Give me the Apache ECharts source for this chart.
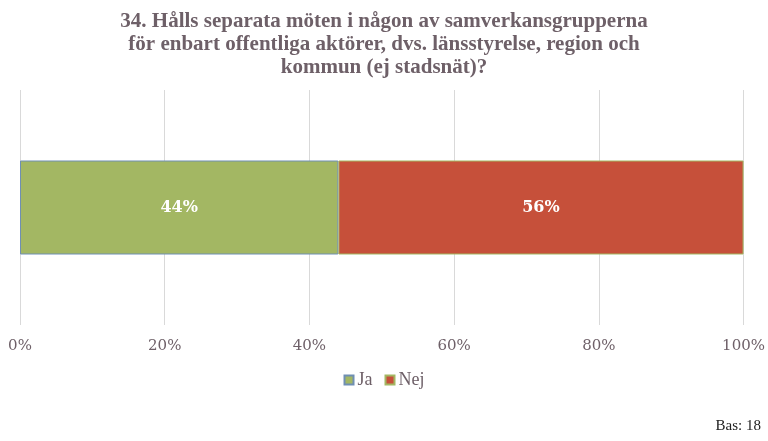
<!DOCTYPE html>
<html lang="sv">
<head>
    <meta charset="UTF-8">
    <title>Samverkansgrupper</title>
    <script src="https://cdn.jsdelivr.net/npm/echarts@6/dist/echarts.min.js"></script>
    <style>
        html, body { margin: 0; padding: 0; background: #fff; }
        #chart { width: 768px; height: 441px; }
    </style>
</head>
<body>
<div id="chart"></div>
<script>
    // data
    var categories = ['Fråga 34'];
    var seriesNames = ['Ja', 'Nej'];
    var jaValues = [44];
    var nejValues = [56];
    var tickLabels = ['0%', '20%', '40%', '60%', '80%', '100%'];

    var serif = '"DejaVu Serif", "Liberation Serif", serif';
    var narrowSerif = '"Liberation Serif", "DejaVu Serif", serif';
    var textColor = '#6e6068';

    var chart = echarts.init(document.getElementById('chart'));

    var option = {
        animation: false,
        title: [{
            text: '34. Hålls separata möten i någon av samverkansgrupperna\nför enbart offentliga aktörer, dvs. länsstyrelse, region och\nkommun (ej stadsnät)?',
            left: 'center',
            top: 5,
            textStyle: {
                fontFamily: narrowSerif,
                fontSize: 21,
                fontWeight: 'bold',
                color: textColor,
                lineHeight: 23
            }
        }, {
            text: 'Bas: 18',
            right: 2,
            bottom: 2,
            textStyle: {
                fontFamily: narrowSerif,
                fontSize: 15,
                fontWeight: 'normal',
                color: '#222'
            }
        }],
        legend: {
            top: 366,
            left: 'center',
            itemWidth: 9,
            itemHeight: 9,
            itemGap: 12,
            icon: 'rect',
            textStyle: { fontFamily: narrowSerif, fontSize: 18, color: textColor, padding: [0, 0, 0, -1] },
            data: seriesNames
        },
        grid: { left: 20, right: 21, top: 90, bottom: 116 },
        xAxis: {
            type: 'value',
            min: 0,
            max: 100,
            interval: 20,
            axisLine: { show: false },
            axisTick: { show: false },
            splitLine: { lineStyle: { color: '#d9d9d9', width: 1 } },
            axisLabel: {
                margin: 14,
                fontFamily: serif,
                fontSize: 15,
                color: textColor,
                formatter: function (v) { return tickLabels[v / 20]; }
            }
        },
        yAxis: {
            type: 'category',
            data: categories,
            axisLine: { show: false },
            axisTick: { show: false },
            axisLabel: { show: false }
        },
        series: [{
            name: seriesNames[0],
            type: 'bar',
            stack: 'total',
            barWidth: '40%',
            data: jaValues,
            itemStyle: { color: '#a3b763', borderColor: '#6f8fb3', borderWidth: 1 },
            label: {
                show: true,
                position: 'inside',
                formatter: '{c}%',
                fontFamily: serif,
                fontSize: 16,
                fontWeight: 'bold',
                color: '#fff'
            }
        }, {
            name: seriesNames[1],
            type: 'bar',
            stack: 'total',
            data: nejValues,
            itemStyle: { color: '#c6503a', borderColor: '#a3b763', borderWidth: 1 },
            label: {
                show: true,
                position: 'inside',
                formatter: '{c}%',
                fontFamily: serif,
                fontSize: 16,
                fontWeight: 'bold',
                color: '#fff'
            }
        }]
    };
    chart.setOption(option);
</script>
</body>
</html>
